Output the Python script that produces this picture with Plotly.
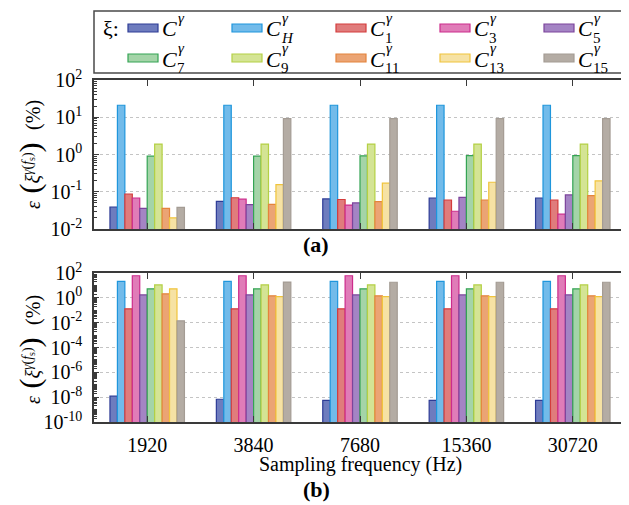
import plotly.graph_objects as go
from plotly.subplots import make_subplots

categories = ["1920", "3840", "7680", "15360", "30720"]
series_keys = ["C", "CH", "C1", "C3", "C5", "C7", "C9", "C11", "C13", "C15"]
legend_subs = ["", "H", "1", "3", "5", "7", "9", "11", "13", "15"]

# panel (a)
a_C = [0.039, 0.055, 0.064, 0.068, 0.068]
a_CH = [21, 21, 21, 21, 21]
a_C1 = [0.087, 0.069, 0.062, 0.060, 0.060]
a_C3 = [0.068, 0.063, 0.044, 0.030, 0.025]
a_C5 = [0.036, 0.045, 0.050, 0.071, 0.082]
a_C7 = [0.90, 0.90, 0.92, 0.93, 0.93]
a_C9 = [1.9, 1.9, 1.9, 1.9, 1.9]
a_C11 = [0.036, 0.046, 0.054, 0.060, 0.079]
a_C13 = [0.020, 0.155, 0.17, 0.18, 0.195]
a_C15 = [0.038, 9.2, 9.2, 9.2, 9.2]

# panel (b)
b_C = [1.2e-8, 6.8e-9, 5.6e-9, 5.6e-9, 5.6e-9]
b_CH = [21, 21, 21, 21, 21]
b_C1 = [0.13, 0.13, 0.13, 0.13, 0.13]
b_C3 = [60, 60, 60, 60, 60]
b_C5 = [1.7, 1.7, 1.7, 1.7, 1.7]
b_C7 = [5.3, 5.3, 5.3, 5.3, 5.3]
b_C9 = [11, 11, 11, 11, 11]
b_C11 = [2.1, 1.45, 1.45, 1.45, 1.45]
b_C13 = [5.3, 1.25, 1.25, 1.25, 1.25]
b_C15 = [0.014, 18.6, 18, 18, 18]

a_vals = [a_C, a_CH, a_C1, a_C3, a_C5, a_C7, a_C9, a_C11, a_C13, a_C15]
b_vals = [b_C, b_CH, b_C1, b_C3, b_C5, b_C7, b_C9, b_C11, b_C13, b_C15]

fills = ["#6e7cbe", "#72bbea", "#e07c7c", "#e07cb8", "#a484c4",
         "#a4d4a8", "#d4e494", "#eba474", "#f6e2a4", "#b4aca4"]
edges = ["#2e3c96", "#1f96dc", "#d43c3c", "#cc2c8c", "#7c449c",
         "#34a454", "#b4d044", "#e4843c", "#f0c43c", "#a49c94"]

a_tickvals = [1e-2, 1e-1, 1, 10, 100]
a_ticktext = ["10<sup>-2</sup>", "10<sup>-1</sup>", "10<sup>0</sup>", "10<sup>1</sup>", "10<sup>2</sup>"]
b_tickvals = [1e-10, 1e-8, 1e-6, 1e-4, 1e-2, 1, 100]
b_ticktext = ["10<sup>-10</sup>", "10<sup>-8</sup>", "10<sup>-6</sup>", "10<sup>-4</sup>",
              "10<sup>-2</sup>", "10<sup>0</sup>", "10<sup>2</sup>"]

# the page body adds an 8px offset; the figure is sized to fill the rest of the window
OFF = 8
W, H = 629 - OFF, 505 - OFF
def px(x):
    return (x - OFF) / W
def py(y):
    return 1 - (y - OFF) / H

SERIF = "Liberation Serif"
AX = "#3a3a3a"

fig = make_subplots(rows=2, cols=1)
for i, k in enumerate(series_keys):
    fig.add_trace(go.Bar(x=categories, y=a_vals[i], name=k, showlegend=False,
                         marker=dict(color=fills[i], line=dict(color=edges[i], width=1.2))),
                  row=1, col=1)
    fig.add_trace(go.Bar(x=categories, y=b_vals[i], name=k, showlegend=False,
                         marker=dict(color=fills[i], line=dict(color=edges[i], width=1.2))),
                  row=2, col=1)

def minor_vals(lo, hi):
    out = []
    for e in range(lo, hi):
        for m in range(2, 10):
            out.append(m * 10 ** e)
    return out

def minor_vals_b(lo, hi):
    out = []
    for e in range(lo, hi):
        for m in range(1, 10):
            if m == 1 and e % 2 == 0:
                continue
            out.append(m * 10 ** e)
    return out

xdom = [px(94), px(626)]
common_x = dict(type="category", showline=True, linecolor=AX, linewidth=1.5, mirror="allticks",
                ticks="inside", ticklen=6, tickcolor=AX, tickwidth=1.2, showgrid=False,
                domain=xdom, automargin=False,
                tickfont=dict(family=SERIF, size=20, color="black"))
fig.update_layout(xaxis=dict(common_x, showticklabels=False),
                  xaxis2=dict(common_x, showticklabels=True, ticklabelstandoff=4))

common_y = dict(type="log", showline=True, linecolor=AX, linewidth=1.5, mirror="allticks",
                ticks="inside", ticklen=5, tickcolor=AX, tickwidth=1.2,
                showgrid=True, gridcolor="#c4c4c4", griddash="dot", gridwidth=1,
                tickmode="array", automargin=False, zeroline=False,
                tickfont=dict(family=SERIF, size=20, color="black"), ticklabelstandoff=6)
fig.update_layout(
    yaxis=dict(common_y, range=[-2, 2], domain=[py(229), py(80)],
               tickvals=a_tickvals, ticktext=a_ticktext,
               minor=dict(tickmode="array", tickvals=minor_vals(-2, 2), ticks="inside",
                          ticklen=3, tickcolor=AX, showgrid=False)),
    yaxis2=dict(common_y, range=[-10, 2], domain=[py(422), py(273)],
                tickvals=b_tickvals, ticktext=b_ticktext,
                minor=dict(tickmode="array", tickvals=minor_vals_b(-10, 2), ticks="inside",
                           ticklen=3, tickcolor=AX, showgrid=False)),
)

fig.update_layout(width=W, height=H, margin=dict(l=0, r=0, t=0, b=0, autoexpand=False),
                  plot_bgcolor="white", paper_bgcolor="white",
                  barmode="group", bargap=0.3, bargroupgap=0,
                  font=dict(family=SERIF, color="black"))

shapes = []
annotations = []
# legend box
shapes.append(dict(type="rect", xref="paper", yref="paper", x0=px(94), x1=px(628),
                   y0=py(73), y1=py(11), line=dict(color="#4a4a4a", width=1.5)))
annotations.append(dict(x=px(101), y=py(28), xref="paper", yref="paper", text="ξ:",
                        showarrow=False, xanchor="left", yanchor="middle",
                        font=dict(family=SERIF, size=22, color="black")))
for i in range(len(series_keys)):
    row, col = divmod(i, 5)
    x0 = 128 + col * 104
    yc = 28 + row * 30
    shapes.append(dict(type="rect", xref="paper", yref="paper", x0=px(x0), x1=px(x0 + 30),
                       y0=py(yc + 4), y1=py(yc - 4), fillcolor=fills[i],
                       line=dict(color=edges[i], width=1.2)))
    annotations.append(dict(x=px(x0 + 32), y=py(yc + 1), xref="paper", yref="paper",
                            text="<i>C</i>", showarrow=False, xanchor="left", yanchor="middle",
                            font=dict(family=SERIF, size=22, color="black")))
    annotations.append(dict(x=px(x0 + 48), y=py(yc - 10), xref="paper", yref="paper",
                            text="<i>γ</i>", showarrow=False, xanchor="left", yanchor="middle",
                            font=dict(family=SERIF, size=15, color="black")))
    if legend_subs[i]:
        s = legend_subs[i]
        txt = "<i>%s</i>" % s if s == "H" else s
        annotations.append(dict(x=px(x0 + 47), y=py(yc + 10), xref="paper", yref="paper",
                                text=txt, showarrow=False, xanchor="left", yanchor="middle",
                                font=dict(family=SERIF, size=15, color="black")))

ytitle = ("<i>ε</i><span style='font-size:30px'> (</span><i>ξ</i><sup><i>γ</i>(<i>f</i><sub>s</sub>)</sup>"
          "<span style='font-size:30px'>) </span> (%)")
for yc in (155, 350):
    annotations.append(dict(x=px(30), y=py(yc), xref="paper", yref="paper", text=ytitle,
                            textangle=-90, showarrow=False, xanchor="center", yanchor="middle",
                            font=dict(family=SERIF, size=20, color="black")))
annotations.append(dict(x=px(316), y=py(244), xref="paper", yref="paper", text="<b>(a)</b>",
                        showarrow=False, xanchor="center", yanchor="middle",
                        font=dict(family=SERIF, size=22, color="black")))
annotations.append(dict(x=px(360), y=py(464), xref="paper", yref="paper",
                        text="Sampling frequency (Hz)",
                        showarrow=False, xanchor="center", yanchor="middle",
                        font=dict(family=SERIF, size=20, color="black")))
annotations.append(dict(x=px(316), y=py(489), xref="paper", yref="paper", text="<b>(b)</b>",
                        showarrow=False, xanchor="center", yanchor="middle",
                        font=dict(family=SERIF, size=22, color="black")))
fig.update_layout(shapes=shapes, annotations=annotations)

fig.write_html("out.html")
